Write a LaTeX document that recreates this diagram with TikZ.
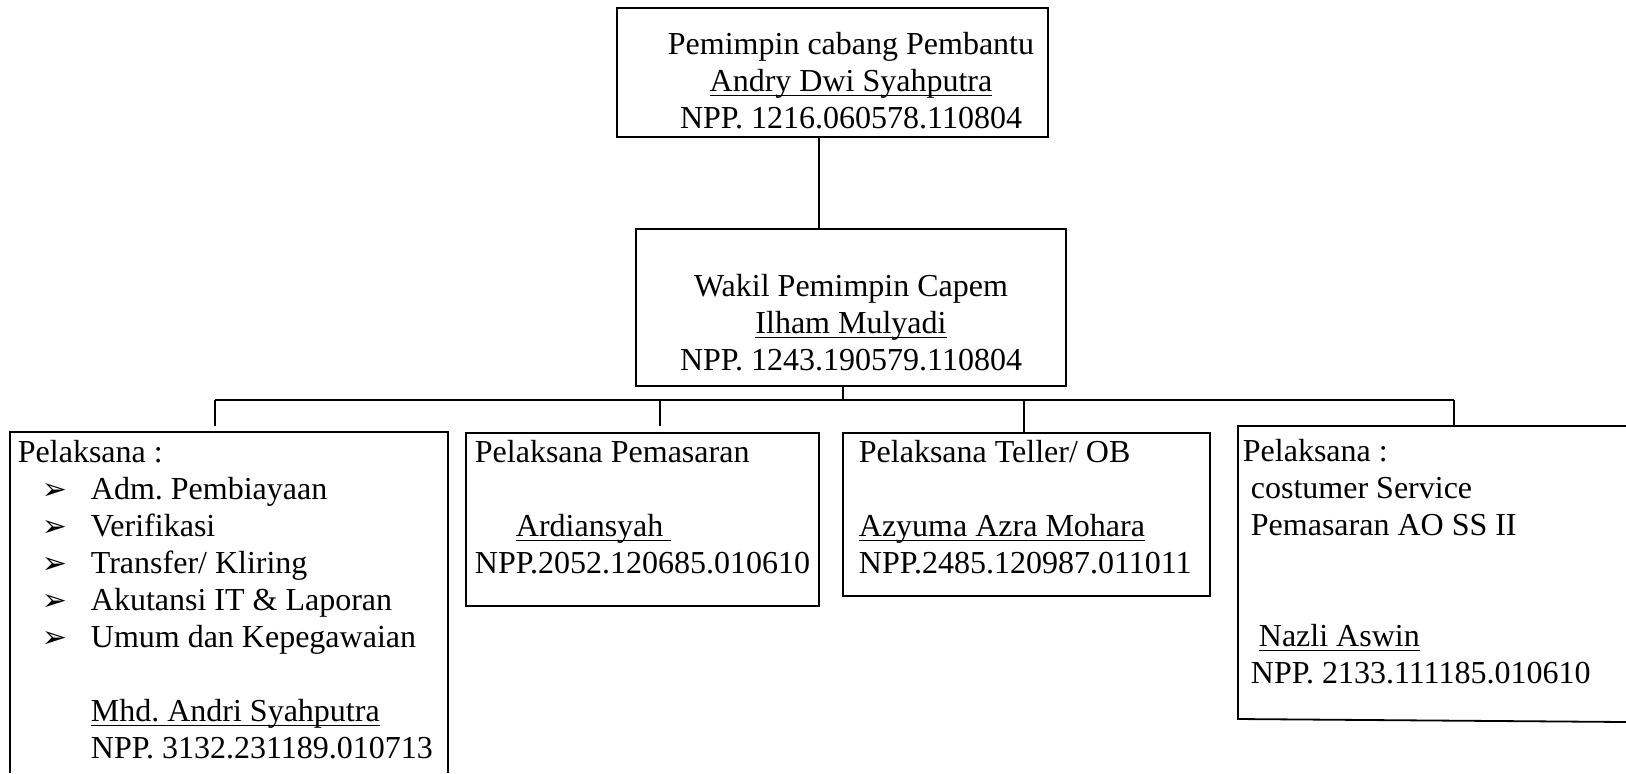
\documentclass[tikz,border=0pt]{standalone}
\usepackage{fontspec}
\setmainfont{Liberation Serif}
\newfontfamily\symfont{DejaVu Sans}
\usetikzlibrary{fit}
\frenchspacing

\newsavebox\ulbox
\newcommand{\ulname}[1]{\sbox\ulbox{#1}\rlap{\rule[-2.5pt]{\wd\ulbox}{0.5pt}}\usebox\ulbox}
\newcommand{\arrowbul}{{\symfont\bfseries\fontsize{15}{15}\selectfont ➢}}
\newcommand{\itm}[1]{\makebox[36.5pt][l]{\hspace*{12pt}\arrowbul}#1}

\tikzset{
  box/.style={draw, line width=0.9pt, inner sep=0pt},
  txt/.style={inner sep=0pt, font={\fontsize{16}{18.5}\selectfont}},
}

\begin{document}
\begin{tikzpicture}[x=0.5pt, y=-0.5pt, line width=0.9pt]
  \useasboundingbox (0,0) rectangle (1626,773);

  % kotak jabatan
  \node[box, fit={(617,8) (1048,137)}] (pinca) {};
  \node[box, fit={(636,229) (1066,386)}] (wakil) {};
  \node[box, fit={(466,433) (819,606)}] (pemasaran) {};
  \node[box, fit={(843,433) (1210,596)}] (teller) {};
  \draw (10,773) -- (10,432) -- (448,432) -- (448,773);
  \draw (1626,426) -- (1238,426) -- (1238,719) -- (1626,722);

  % garis penghubung
  \coordinate (c1) at (819,0);
  \coordinate (bus) at (843,400);
  \coordinate (s1) at (215,400);
  \coordinate (s2) at (660,400);
  \coordinate (s3) at (1024,400);
  \coordinate (s4) at (1454,400);
  \draw (pinca.south -| c1) -- (wakil.north -| c1);
  \draw (wakil.south -| bus) -- (bus);
  \draw (s1) -- (s4);
  \draw (s1) -- ++(0,26);
  \draw (s2) -- ++(0,26);
  \draw (s3) -- (teller.north -| s3);
  \draw (s4) -- ++(0,26);

  % teks (anchor pada baris terakhir)
  \node[txt, anchor=base, align=center] (pinca-t) at (851,128)
    {Pemimpin cabang Pembantu\\ \ulname{Andry Dwi Syahputra}\\ NPP. 1216.060578.110804};
  \node[txt, anchor=base, align=center] (wakil-t) at (851,370)
    {Wakil Pemimpin Capem\\ \ulname{Ilham Mulyadi}\\ NPP. 1243.190579.110804};
  \node[txt, anchor=base west, align=left] (adm-t) at (17,758)
    {Pelaksana :\\ \itm{Adm. Pembiayaan}\\ \itm{Verifikasi}\\ \itm{Transfer/ Kliring}\\
     \itm{Akutansi IT \& Laporan}\\ \itm{Umum dan Kepegawaian}\\ \mbox{}\\
     \hspace*{36.5pt}\ulname{Mhd. Andri Syahputra}\\ \hspace*{36.5pt}NPP. 3132.231189.010713};
  \node[txt, anchor=base west, align=left] (pemasaran-t) at (474,573)
    {Pelaksana Pemasaran\\ \mbox{}\\ \hspace*{20.5pt}\ulname{Ardiansyah\ }\\ NPP.2052.120685.010610};
  \node[txt, anchor=base west, align=left] (teller-t) at (858,573)
    {Pelaksana Teller/ OB\\ \mbox{}\\ \ulname{Azyuma Azra Mohara}\\ NPP.2485.120987.011011};
  \node[txt, anchor=base west, align=left] (cs-t) at (1242,683)
    {Pelaksana :\\ \hspace*{4pt}costumer Service\\ \hspace*{4pt}Pemasaran AO SS II\\ \mbox{}\\ \mbox{}\\
     \hspace*{8pt}\ulname{Nazli Aswin}\\ \hspace*{4pt}NPP. 2133.111185.010610};
\end{tikzpicture}
\end{document}
